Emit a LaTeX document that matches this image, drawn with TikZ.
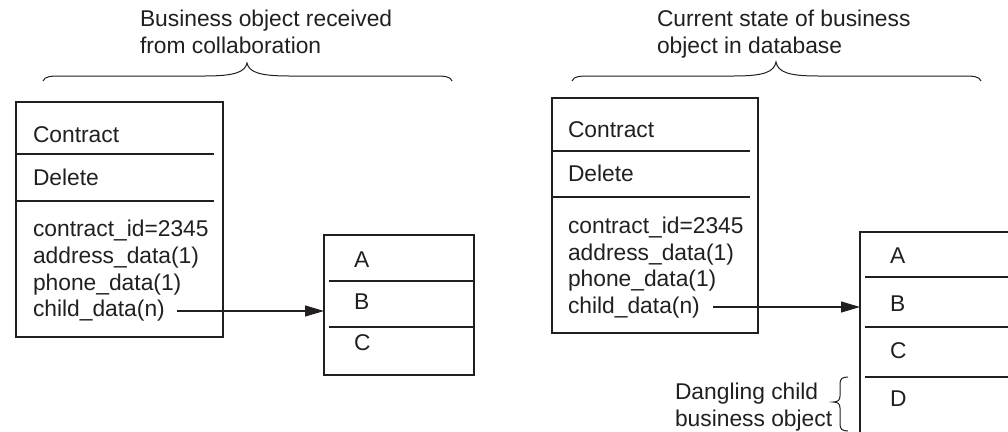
\documentclass[tikz,border=0pt]{standalone}
\usepackage{fontspec}
\setmainfont{Liberation Sans}
\usetikzlibrary{arrows.meta}
\definecolor{ink}{RGB}{35,31,32}
\begin{document}
\begin{tikzpicture}[x=1pt,y=-1pt,
  every node/.style={inner sep=0pt, outer sep=0pt, text=ink},
  txt/.style={anchor=base west, font=\fontsize{22.8}{27}\selectfont},
  ttl/.style={anchor=north west, align=left, font=\fontsize{22.8}{27}\selectfont},
  box/.style={draw=ink, line width=1.1pt, anchor=north west},
  sepline/.style={draw=ink, line width=1.1pt},
  conn/.style={draw=ink, line width=1.1pt, -{Triangle[length=19pt,width=11pt]}},
  brc/.style={draw=ink, line width=1pt}]
\useasboundingbox (0,0) rectangle (1008,431);
\clip (0,0) rectangle (1008,431);

% ---------- left group ----------
\node[ttl] (t1) at (140,10.4) {Business object received\\from collaboration};
\draw[brc] (43,81) .. controls (45,76) and (50,76) .. (65,76) -- (205,76)
  .. controls (235,76) and (245,72) .. (247,63)
  .. controls (249,72) and (259,76) .. (289,76) -- (430,76)
  .. controls (445,76) and (450,76) .. (452,81);

\node[box, minimum width=207pt, minimum height=235pt] (c1) at (16,102) {};
\draw[sepline] (16,154) -- (214,154);
\draw[sepline] (16,201) -- (214,201);
\node[txt] (k1) at (33,142) {Contract};
\node[txt] (d1) at (33,185) {Delete};
\node[txt] (l1a) at (33,236) {contract\_id=2345};
\node[txt] (l1b) at (33,263) {address\_data(1)};
\node[txt] (l1c) at (33,290) {phone\_data(1)};
\node[txt] (l1d) at (33,316) {child\_data(n)};

\node[box, minimum width=150pt, minimum height=140pt] (b1) at (324,235) {};
\draw[sepline] (329,281) -- (474,281);
\draw[sepline] (329,327) -- (474,327);
\node[txt] (b1a) at (354,267) {A};
\node[txt] (b1b) at (354,309) {B};
\node[txt] (b1c) at (354,350) {C};

\coordinate (s1) at (177,311);
\draw[conn] (s1) -- (s1 -| b1.west);

% ---------- right group ----------
\node[ttl] (t2) at (657,10.4) {Current state of business\\object in database};
\draw[brc] (572,81) .. controls (574,76) and (579,76) .. (594,76) -- (734,76)
  .. controls (764,76) and (774,72) .. (776,62)
  .. controls (778,72) and (788,76) .. (818,76) -- (959,76)
  .. controls (974,76) and (979,76) .. (981,81);

\node[box, minimum width=206pt, minimum height=235pt] (c2) at (552,98) {};
\draw[sepline] (552,151) -- (750,151);
\draw[sepline] (552,197) -- (750,197);
\node[txt] (k2) at (568,137) {Contract};
\node[txt] (d2) at (568,181) {Delete};
\node[txt] (l2a) at (568,233) {contract\_id=2345};
\node[txt] (l2b) at (568,260) {address\_data(1)};
\node[txt] (l2c) at (568,286) {phone\_data(1)};
\node[txt] (l2d) at (568,313) {child\_data(n)};

\node[box, minimum width=200pt, minimum height=260pt] (b2) at (860,232) {};
\draw[sepline] (865,277) -- (1010,277);
\draw[sepline] (865,327) -- (1010,327);
\draw[sepline] (865,377) -- (1010,377);
\node[txt] (b2a) at (890,263) {A};
\node[txt] (b2b) at (890,311) {B};
\node[txt] (b2c) at (890,358) {C};
\node[txt] (b2d) at (890,406) {D};

\coordinate (s2) at (713,307);
\draw[conn] (s2) -- (s2 -| b2.west);

\node[ttl] (dg) at (675,383.4) {Dangling child\\business object};
\draw[brc] (848,377) .. controls (842,377) and (840,379) .. (840,384) -- (840,396)
  .. controls (840,400) and (838,402) .. (833,402)
  .. controls (838,402) and (840,404) .. (840,408) -- (840,424)
  .. controls (840,429) and (842,431) .. (848,431);
\end{tikzpicture}
\end{document}
